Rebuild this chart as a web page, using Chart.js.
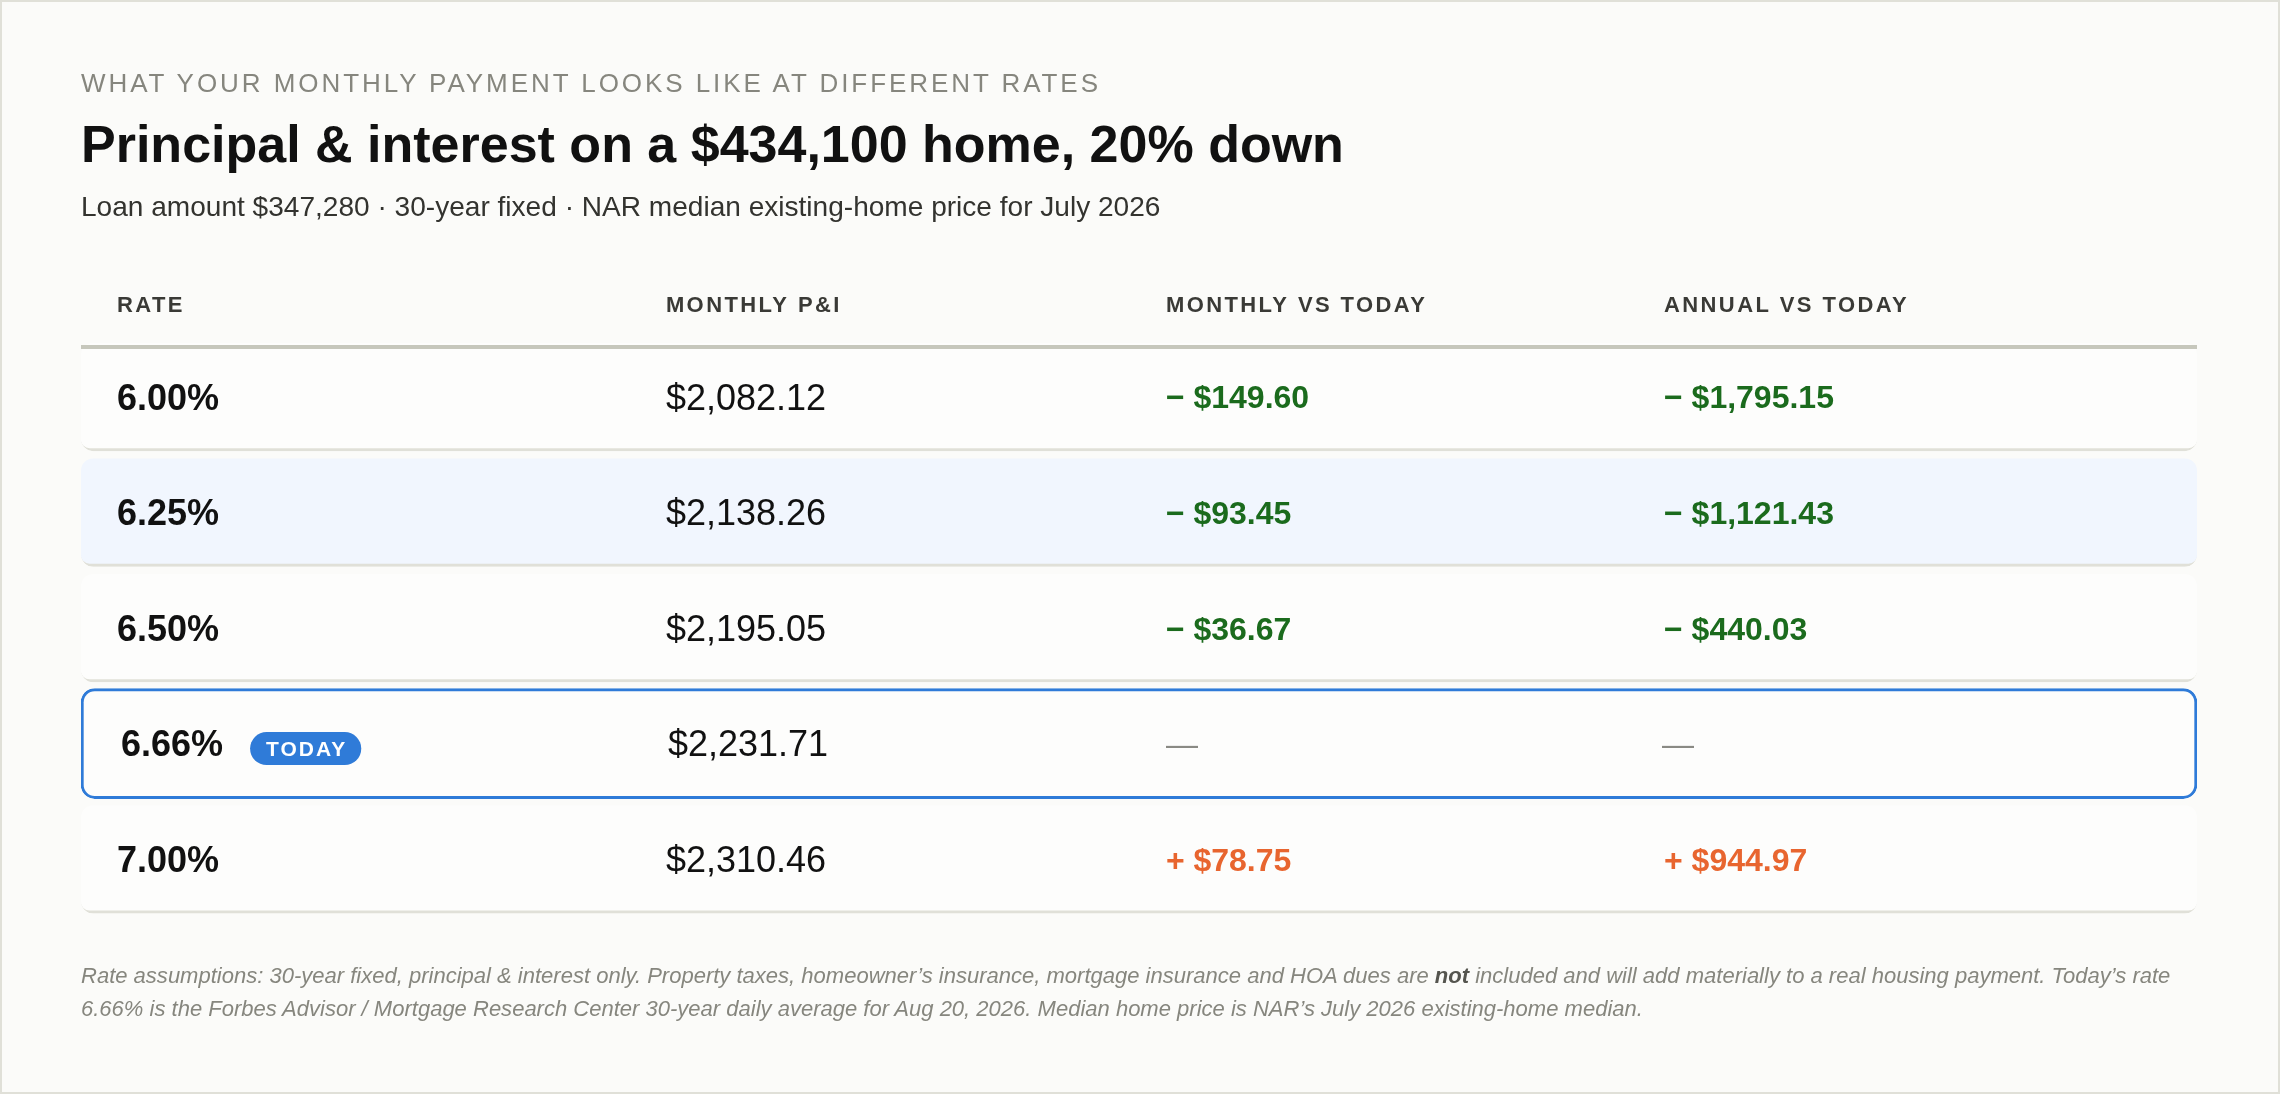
<!DOCTYPE html>
<html>
<head>
<meta charset="utf-8">
<script src="https://cdn.jsdelivr.net/npm/chart.js@4.4.1/dist/chart.umd.min.js"></script>
<style>
  html, body { margin: 0; padding: 0; background: #fbfbf9; }
  #page { position: relative; width: 2280px; height: 1094px; box-sizing: border-box; border: 2px solid #e0e0d8; overflow: hidden; background: #fbfbf9; font-family: "Liberation Sans", Arial, Helvetica, sans-serif; }
  #chartWrap { position: absolute; left: -2px; top: -2px; width: 2280px; height: 1094px; }
  .t { position: absolute; left: 79px; line-height: 1; white-space: nowrap; display: inline-block; }
  #eyebrow { font-size: 26px; color: #86867e; top: 68.3px; }
  #title { font-size: 52px; font-weight: bold; color: #111111; top: 115.7px; }
  #subtitle { font-size: 27px; color: #33332f; top: 192px; }
  .foot { font-size: 21px; font-style: italic; color: #86867e; }
  .foot b { color: #55554f; }
  #foot1 { top: 963.6px; }
  #foot2 { top: 997px; }
</style>
</head>
<body>
<div id="page">
  <div id="chartWrap"><canvas id="c"></canvas></div>
  <div class="t" id="eyebrow">WHAT YOUR MONTHLY PAYMENT LOOKS LIKE AT DIFFERENT RATES</div>
  <div class="t" id="title">Principal &amp; interest on a $434,100 home, 20% down</div>
  <div class="t" id="subtitle">Loan amount $347,280 · 30-year fixed · NAR median existing-home price for July 2026</div>
  <div class="t foot" id="foot1">Rate assumptions: 30-year fixed, principal &amp; interest only. Property taxes, homeowner’s insurance, mortgage insurance and HOA dues are <b>not</b> included and will add materially to a real housing payment. Today’s rate</div>
  <div class="t foot" id="foot2">6.66% is the Forbes Advisor / Mortgage Research Center 30-year daily average for Aug 20, 2026. Median home price is NAR’s July 2026 existing-home median.</div>
</div>
<script>
// ---------------- data ----------------
const COLUMN_HEADERS = ['RATE', 'MONTHLY P&I', 'MONTHLY VS TODAY', 'ANNUAL VS TODAY'];
const RATES = [6.00, 6.25, 6.50, 6.66, 7.00];
const MONTHLY_PI = [2082.12, 2138.26, 2195.05, 2231.71, 2310.46];
const MONTHLY_VS_TODAY = [-149.60, -93.45, -36.67, null, 78.75];
const ANNUAL_VS_TODAY = [-1795.15, -1121.43, -440.03, null, 944.97];
const TODAY_INDEX = 3;
const TODAY_BADGE = 'TODAY';

// ---------------- layout / style ----------------
const X_MIN = 0, X_MAX = 100;                 // table width in percent
const COL_STARTS = [0, 25.94, 49.57, 73.11];  // column left edges (percent of table)
const CELL_PAD = 36;
const FONT = '"Liberation Sans", Arial, Helvetica, sans-serif';
const C = {
  text: '#111111', header: '#3a3a36', rule: '#c6c7bc', rowBg: '#fdfdfc', zebra: '#f1f6fe',
  rowBorder: '#e0e0d8', today: '#2f7bd8', down: '#1b6b1d', up: '#e8652f', dash: '#8a8a84'
};

const fmtRate = r => r.toFixed(2) + '%';
const fmtMoney = v => '$' + Math.abs(v).toLocaleString('en-US', {minimumFractionDigits: 2, maximumFractionDigits: 2});
const fmtDiff = v => (v < 0 ? '\u2212 ' : '+ ') + fmtMoney(v);

// fit html text lines to the reference widths
function fitSpacing(id, target) {
  const el = document.getElementById(id);
  el.style.letterSpacing = '0px';
  const w = el.getBoundingClientRect().width;
  const n = el.textContent.length;
  el.style.letterSpacing = ((target - w) / (n - 1)) + 'px';
}
function fitFont(id, target) {
  const el = document.getElementById(id);
  const fs = parseFloat(getComputedStyle(el).fontSize);
  const w = el.getBoundingClientRect().width;
  const nfs = fs * target / w;
  el.style.fontSize = nfs + 'px';
  el.style.top = (parseFloat(getComputedStyle(el).top) - 0.8465 * (nfs - fs)) + 'px';
}
fitSpacing('eyebrow', 1017);
fitFont('subtitle', 1080);
fitFont('foot1', 2090);
fitFont('foot2', 1563);

const spacingPlugin = {
  id: 'spacing',
  beforeDraw(chart) { chart.ctx.letterSpacing = '2.4px'; },
  beforeDatasetsDraw(chart) { chart.ctx.letterSpacing = '0px'; }
};

const cellsPlugin = {
  id: 'cells',
  afterDatasetsDraw(chart) {
    const {ctx, scales: {x, y}} = chart;
    ctx.save();
    ctx.letterSpacing = '0px';
    // header rule
    ctx.fillStyle = C.rule;
    ctx.fillRect(x.getPixelForValue(X_MIN), y.top + 6, x.getPixelForValue(X_MAX) - x.getPixelForValue(X_MIN), 4);

    RATES.forEach((rate, i) => {
      const cy = y.getPixelForValue(i);
      const today = i === TODAY_INDEX;
      const shift = today ? 4 : 0;
      const colX = k => x.getPixelForValue(COL_STARTS[k]) + CELL_PAD + shift;
      ctx.textBaseline = 'alphabetic';
      ctx.textAlign = 'left';

      // rate
      ctx.font = `bold 36px ${FONT}`;
      ctx.fillStyle = C.text;
      const rateTxt = fmtRate(rate);
      ctx.fillText(rateTxt, colX(0), cy + 12.8);
      if (today) {
        const rw = ctx.measureText(rateTxt).width;
        ctx.font = `bold 21px ${FONT}`;
        ctx.letterSpacing = '2px';
        const tw = ctx.measureText(TODAY_BADGE).width - 2;
        const bx = colX(0) + rw + 27, bh = 33, bw = tw + 32, by = cy + 5 - bh / 2;
        ctx.beginPath();
        ctx.roundRect(bx, by, bw, bh, bh / 2);
        ctx.fillStyle = C.today;
        ctx.fill();
        ctx.fillStyle = '#ffffff';
        ctx.fillText(TODAY_BADGE, bx + 16, cy + 5 + 7.5);
        ctx.letterSpacing = '0px';
      }

      // monthly P&I
      ctx.font = `36px ${FONT}`;
      ctx.fillStyle = C.text;
      ctx.fillText(fmtMoney(MONTHLY_PI[i]), colX(1) - shift / 2, cy + 12.8);

      // differences
      [MONTHLY_VS_TODAY[i], ANNUAL_VS_TODAY[i]].forEach((v, k) => {
        if (v === null) {
          ctx.font = `32px ${FONT}`;
          ctx.fillStyle = C.dash;
          ctx.fillText('\u2014', colX(2 + k) - shift - 2 * k, cy + 11.5);
        } else {
          ctx.font = `bold 32px ${FONT}`;
          ctx.fillStyle = v < 0 ? C.down : C.up;
          ctx.fillText(fmtDiff(v), colX(2 + k), cy + 11.5);
        }
      });
    });
    ctx.restore();
  }
};

new Chart(document.getElementById('c'), {
  type: 'bar',
  data: {
    labels: RATES.map(fmtRate),
    datasets: [
      {
        label: 'Rows',
        data: RATES.map((r, i) => i === TODAY_INDEX ? null : [X_MIN, X_MAX]),
        backgroundColor: RATES.map((r, i) => i % 2 === 1 ? C.zebra : C.rowBg),
        borderColor: C.rowBorder,
        borderWidth: {top: 0, left: 0, right: 0, bottom: 3},
        borderRadius: 12,
        borderSkipped: false,
        barThickness: 108,
        grouped: false
      },
      {
        label: 'Today',
        data: RATES.map((r, i) => i === TODAY_INDEX ? [X_MIN, X_MAX] : null),
        backgroundColor: C.rowBg,
        borderColor: C.today,
        borderWidth: 3,
        borderRadius: 14,
        borderSkipped: false,
        barThickness: 110,
        grouped: false
      }
    ]
  },
  options: {
    indexAxis: 'y',
    responsive: true,
    maintainAspectRatio: false,
    animation: false,
    events: [],
    layout: {padding: {left: 81, right: 83, top: 279, bottom: 177}},
    plugins: {legend: {display: false}, tooltip: {enabled: false}, title: {display: false}},
    scales: {
      x: {
        type: 'linear', position: 'top', min: X_MIN, max: X_MAX,
        grid: {display: false, drawTicks: false},
        border: {display: false},
        afterBuildTicks: s => { s.ticks = COL_STARTS.map(v => ({value: v})); },
        afterFit: s => { s.height = 60; },
        ticks: {
          autoSkip: false, maxRotation: 0, minRotation: 0, align: 'start',
          labelOffset: CELL_PAD, padding: 20, color: C.header,
          font: {family: FONT, size: 22, weight: 'bold'},
          callback: (v, i) => COLUMN_HEADERS[i]
        }
      },
      y: {type: 'category', display: false, offset: true, grid: {display: false}}
    }
  },
  plugins: [spacingPlugin, cellsPlugin]
});
</script>
</body>
</html>
